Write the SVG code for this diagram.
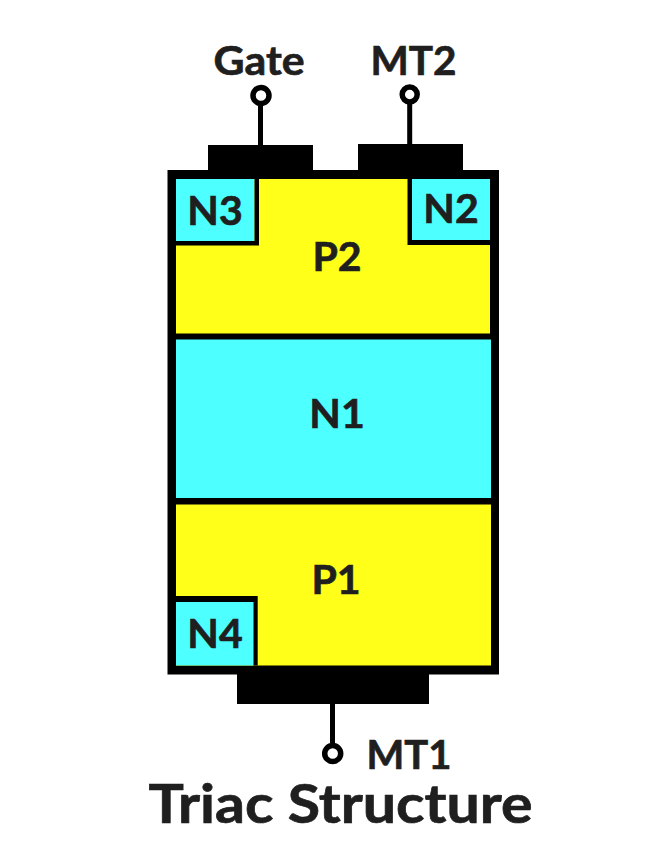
<svg xmlns="http://www.w3.org/2000/svg" width="669" height="852" viewBox="0 0 669 852">
<style>
.t{font-family:Lato,"Open Sans",sans-serif;font-weight:700;fill:#1f1f1f;stroke:#1f1f1f;stroke-width:.7;text-anchor:middle}
.l{font-size:41px}
.b{fill:#000}
.n{fill:#4dffff}
.p{fill:#ffff19}
.s{stroke:#000;stroke-width:5;fill:none}
.c{fill:#fff;stroke:#000;stroke-width:5.5}
</style>
<rect width="669" height="852" fill="#fff"/>
<g id="body">
<rect class="b" x="167.500" y="170" width="331.500" height="504.500"/>
</g>
<g id="P2"><rect class="p" x="176" y="179" width="314" height="154.500"/><text class="t l" x="337" y="271">P2</text></g>
<g id="N1"><rect class="n" x="176" y="339.500" width="315" height="158.500"/><text class="t l" x="337" y="428">N1</text></g>
<g id="P1"><rect class="p" x="176" y="504.500" width="315" height="161"/><text class="t l" x="336" y="593.500">P1</text></g>
<g id="N3"><rect class="n" x="176" y="179" width="78.500" height="62" stroke="none"/><path class="b" d="M254.500 179h4.500v66.500h-83v-4.500h78.500z"/><text class="t l" x="215" y="224.500">N3</text></g>
<g id="N2"><rect class="n" x="412" y="179" width="78" height="61" stroke="none"/><path class="b" d="M407.500 179h4.500v61h78v5h-82.500z"/><text class="t l" x="451" y="222.500">N2</text></g>
<g id="N4"><rect class="n" x="176" y="602" width="77.500" height="63.500"/><path class="b" d="M176 596h81.700v69.500h-4.200v-63.500h-77.500z"/><text class="t l" x="215" y="647.500">N4</text></g>
<g id="gate-contact"><rect class="b" x="208" y="145" width="105" height="26"/></g>
<g id="mt2-contact"><rect class="b" x="358" y="144" width="105" height="27"/></g>
<g id="mt1-contact"><rect class="b" x="237" y="674" width="192" height="30"/></g>
<g id="connectors">
<path class="s" d="M260.500 106V146M409.700 104V145M332.500 703V743"/>
</g>
<g id="Gate"><circle class="c" cx="261" cy="95.500" r="8"/><text class="t l" x="259" y="75" textLength="91" lengthAdjust="spacingAndGlyphs">Gate</text></g>
<g id="MT2"><circle class="c" cx="409.700" cy="94.500" r="7.500"/><text class="t l" x="413.500" y="75" textLength="86" lengthAdjust="spacingAndGlyphs">MT2</text></g>
<g id="MT1"><circle class="c" cx="332.700" cy="753.500" r="8"/><text class="t l" x="409" y="769" textLength="85" lengthAdjust="spacingAndGlyphs">MT1</text></g>
<text id="title" class="t" x="340.500" y="822.500" font-size="53" textLength="384" lengthAdjust="spacingAndGlyphs">Triac Structure</text>
</svg>
